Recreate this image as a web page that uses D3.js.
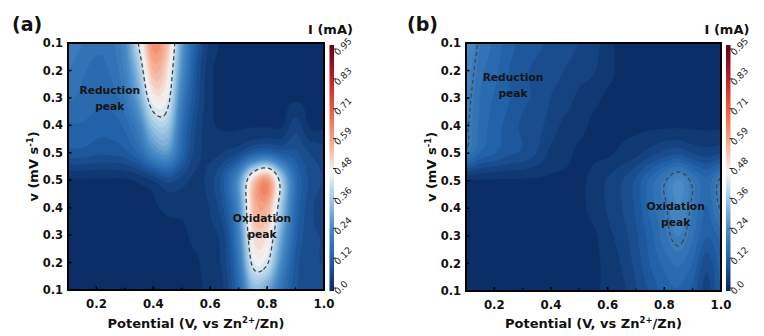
<!DOCTYPE html>
<html>
<head>
<meta charset="utf-8">
<script src="https://cdn.jsdelivr.net/npm/d3@7"></script>
<style>
  body { margin: 0; background: #fff; }
  svg { display: block; font-family: "DejaVu Sans", sans-serif; }
</style>
</head>
<body>
<svg id="chart" width="764" height="336"></svg>
<script>
// potential columns (V vs Zn2+/Zn)
const potentials = [0.10, 0.15, 0.20, 0.25, 0.30, 0.35, 0.40, 0.45, 0.50, 0.55, 0.60, 0.65, 0.70, 0.75, 0.80, 0.85, 0.90, 0.95, 1.00];
// scan-rate rows, top (cathodic) to bottom (anodic)
const scanRateLabels = ['0.1', '0.2', '0.3', '0.4', '0.5', '0.5', '0.4', '0.3', '0.2', '0.1'];

// current I (mA), panel (a)
const currentA = [
  [0.21, 0.19, 0.17, 0.18, 0.24, 0.43, 0.63, 0.55, 0.28, 0.12, 0.04, 0.02, 0.02, 0.02, 0.02, 0.02, 0.02, 0.02, 0.02],
  [0.19, 0.17, 0.16, 0.17, 0.22, 0.36, 0.57, 0.50, 0.25, 0.10, 0.03, 0.02, 0.02, 0.02, 0.02, 0.02, 0.02, 0.02, 0.02],
  [0.17, 0.16, 0.15, 0.15, 0.19, 0.30, 0.48, 0.45, 0.21, 0.09, 0.03, 0.02, 0.02, 0.02, 0.02, 0.02, 0.02, 0.02, 0.02],
  [0.14, 0.14, 0.13, 0.13, 0.15, 0.22, 0.36, 0.37, 0.17, 0.07, 0.03, 0.02, 0.02, 0.02, 0.02, 0.02, 0.06, 0.02, 0.02],
  [0.11, 0.11, 0.10, 0.10, 0.11, 0.15, 0.24, 0.27, 0.14, 0.06, 0.04, 0.05, 0.07, 0.12, 0.14, 0.11, 0.10, 0.07, 0.06],
  [0.02, 0.02, 0.02, 0.02, 0.02, 0.03, 0.05, 0.08, 0.06, 0.04, 0.06, 0.12, 0.26, 0.52, 0.62, 0.38, 0.16, 0.09, 0.07],
  [0.02, 0.02, 0.02, 0.02, 0.02, 0.02, 0.02, 0.03, 0.03, 0.03, 0.05, 0.10, 0.24, 0.55, 0.58, 0.36, 0.15, 0.08, 0.06],
  [0.02, 0.02, 0.02, 0.02, 0.02, 0.02, 0.02, 0.02, 0.02, 0.03, 0.04, 0.07, 0.22, 0.50, 0.50, 0.30, 0.13, 0.08, 0.07],
  [0.02, 0.02, 0.02, 0.02, 0.02, 0.02, 0.02, 0.02, 0.02, 0.02, 0.04, 0.06, 0.18, 0.44, 0.43, 0.24, 0.11, 0.08, 0.07],
  [0.02, 0.02, 0.02, 0.02, 0.02, 0.02, 0.02, 0.02, 0.02, 0.02, 0.03, 0.05, 0.15, 0.33, 0.30, 0.18, 0.10, 0.09, 0.08]
];

// current I (mA), panel (b)
const currentB = [
  [0.25, 0.19, 0.16, 0.13, 0.11, 0.10, 0.09, 0.08, 0.07, 0.06, 0.03, 0.02, 0.02, 0.02, 0.02, 0.02, 0.02, 0.02, 0.02],
  [0.23, 0.175, 0.15, 0.12, 0.10, 0.09, 0.08, 0.07, 0.06, 0.05, 0.03, 0.02, 0.02, 0.02, 0.02, 0.02, 0.02, 0.02, 0.02],
  [0.215, 0.165, 0.14, 0.12, 0.10, 0.09, 0.07, 0.06, 0.04, 0.03, 0.02, 0.02, 0.02, 0.02, 0.02, 0.02, 0.02, 0.02, 0.02],
  [0.205, 0.16, 0.13, 0.11, 0.09, 0.08, 0.06, 0.04, 0.03, 0.02, 0.02, 0.02, 0.02, 0.02, 0.02, 0.02, 0.02, 0.02, 0.02],
  [0.19, 0.14, 0.12, 0.10, 0.09, 0.07, 0.04, 0.03, 0.02, 0.02, 0.02, 0.03, 0.04, 0.06, 0.08, 0.09, 0.07, 0.06, 0.07],
  [0.02, 0.02, 0.02, 0.02, 0.02, 0.02, 0.02, 0.02, 0.02, 0.03, 0.05, 0.07, 0.10, 0.15, 0.195, 0.24, 0.19, 0.15, 0.21],
  [0.02, 0.02, 0.02, 0.02, 0.02, 0.02, 0.02, 0.02, 0.02, 0.03, 0.05, 0.07, 0.10, 0.15, 0.19, 0.235, 0.19, 0.14, 0.205],
  [0.02, 0.02, 0.02, 0.02, 0.02, 0.02, 0.02, 0.02, 0.02, 0.02, 0.04, 0.06, 0.09, 0.13, 0.18, 0.215, 0.17, 0.12, 0.15],
  [0.02, 0.02, 0.02, 0.02, 0.02, 0.02, 0.02, 0.02, 0.02, 0.02, 0.03, 0.05, 0.08, 0.12, 0.15, 0.17, 0.14, 0.08, 0.13],
  [0.02, 0.02, 0.02, 0.02, 0.02, 0.02, 0.02, 0.02, 0.02, 0.02, 0.03, 0.04, 0.07, 0.10, 0.13, 0.14, 0.11, 0.06, 0.12]
];

const xMajorTicks = [0.2, 0.4, 0.6, 0.8, 1.0];
const xMinorTicks = [0.3, 0.5, 0.7, 0.9];
const cbarTicks = [0, 0.11875, 0.2375, 0.35625, 0.475, 0.59375, 0.7125, 0.83125, 0.95];
const cbarLabels = ['0.0', '0.12', '0.24', '0.36', '0.48', '0.59', '0.71', '0.83', '0.95'];
const cmapStops = [0, 0.12, 0.24, 0.36, 0.46, 0.59, 0.71, 0.83, 0.95];
const cmapColors = ['#0c2e66', '#2263aa', '#4b8dc7', '#a5cce6', '#f4f4f4', '#f5a283', '#e95d40', '#c02229', '#6b0019'];

const panels = [
  { key: 'a', tag: '(a)', data: currentA, left: 68, right: 324, top: 43, bottom: 290, cbX: 329.5, dash: 0.42,
    notes: [{ lines: ['Reduction', 'peak'], x: 0.247, row: 1.86 }, { lines: ['Oxidation', 'peak'], x: 0.782, row: 6.52 }] },
  { key: 'b', tag: '(b)', data: currentB, left: 466, right: 721, top: 43, bottom: 291, cbX: 726, dash: 0.2,
    notes: [{ lines: ['Reduction', 'peak'], x: 0.266, row: 1.38 }, { lines: ['Oxidation', 'peak'], x: 0.84, row: 6.05 }] }
];

const color = d3.scaleLinear().domain(cmapStops).range(cmapColors).clamp(true);
const levels = d3.range(41).map(i => i * 0.95 / 40);
const K = 8;

function cubic(p0, p1, p2, p3, t) {
  return 0.5 * (2 * p1 + (-p0 + p2) * t + (2 * p0 - 5 * p1 + 4 * p2 - p3) * t * t + (-p0 + 3 * p1 - 3 * p2 + p3) * t * t * t);
}
function sample(arr, u) {
  const n = arr.length;
  const i = Math.min(Math.floor(u), n - 2);
  const t = u - i;
  const g = k => arr[Math.max(0, Math.min(n - 1, k))];
  return cubic(g(i - 1), g(i), g(i + 1), g(i + 2), t);
}
function refine(grid) {
  const ny = grid.length, nx = grid[0].length;
  const fx = (nx - 1) * K + 1, fy = (ny - 1) * K + 1;
  const rows = grid.map(r => d3.range(fx).map(i => sample(r, i / K)));
  const values = new Array(fx * fy);
  for (let i = 0; i < fx; i++) {
    const col = rows.map(r => r[i]);
    for (let j = 0; j < fy; j++) values[j * fx + i] = Math.max(0, sample(col, j / K));
  }
  return { values, fx, fy };
}

const svg = d3.select('#chart');

panels.forEach(p => {
  const x = d3.scaleLinear().domain([0.1, 1.0]).range([p.left, p.right]);
  const y = d3.scaleLinear().domain([0, scanRateLabels.length - 1]).range([p.top, p.bottom]);
  const { values, fx, fy } = refine(p.data);
  const colPos = d3.scaleLinear().domain([0.5, fx - 0.5]).range([potentials[0], potentials[potentials.length - 1]]);
  const rowPos = d3.scaleLinear().domain([0.5, fy - 0.5]).range([0, scanRateLabels.length - 1]);
  const path = d3.geoPath(d3.geoTransform({
    point(px, py) { this.stream.point(x(colPos(px)), y(rowPos(py))); }
  }));

  svg.append('clipPath').attr('id', 'clip-' + p.key)
    .append('rect')
    .attr('x', p.left).attr('y', p.top)
    .attr('width', p.right - p.left).attr('height', p.bottom - p.top);

  const g = svg.append('g').attr('clip-path', `url(#clip-${p.key})`);

  const bands = d3.contours().size([fx, fy]).thresholds(levels)(values);
  g.selectAll('path.band')
    .data(bands)
    .join('path')
    .attr('class', 'band')
    .attr('d', path)
    .attr('fill', d => color(d.value))
    .attr('stroke', d => color(d.value))
    .attr('stroke-width', 0.4);

  const dashLine = d3.contours().size([fx, fy]).thresholds([p.dash])(values);
  g.selectAll('path.dash')
    .data(dashLine)
    .join('path')
    .attr('class', 'dash')
    .attr('d', path)
    .attr('fill', 'none')
    .attr('stroke', '#454545')
    .attr('stroke-width', 1.3)
    .attr('stroke-dasharray', '4,3');

  // annotations
  p.notes.forEach(n => {
    n.lines.forEach((t, i) => {
      svg.append('text')
        .text(t)
        .attr('x', x(n.x)).attr('y', y(n.row) + i * 16)
        .attr('text-anchor', 'middle')
        .attr('font-size', '10.7px')
        .attr('font-weight', 'bold')
        .attr('fill', '#151515');
    });
  });

  // frame
  svg.append('rect')
    .attr('x', p.left).attr('y', p.top)
    .attr('width', p.right - p.left).attr('height', p.bottom - p.top)
    .attr('fill', 'none').attr('stroke', '#000').attr('stroke-width', 2);

  // x ticks
  svg.selectAll(null).data(xMajorTicks).join('line')
    .attr('x1', d => x(d)).attr('x2', d => x(d))
    .attr('y1', p.bottom).attr('y2', p.bottom - 4)
    .attr('stroke', '#000').attr('stroke-width', 1.5);
  svg.selectAll(null).data(xMinorTicks).join('line')
    .attr('x1', d => x(d)).attr('x2', d => x(d))
    .attr('y1', p.bottom).attr('y2', p.bottom - 2.5)
    .attr('stroke', '#000').attr('stroke-width', 1.2);
  svg.selectAll(null).data(xMajorTicks).join('text')
    .text(d => d.toFixed(1))
    .attr('x', d => x(d)).attr('y', p.bottom + 18)
    .attr('text-anchor', 'middle')
    .attr('font-size', '11.8px').attr('font-weight', 'bold').attr('fill', '#111');

  // y ticks
  svg.selectAll(null).data(scanRateLabels).join('line')
    .attr('x1', p.left).attr('x2', p.left + 3.5)
    .attr('y1', (d, i) => y(i)).attr('y2', (d, i) => y(i))
    .attr('stroke', '#000').attr('stroke-width', 1.5);
  svg.selectAll(null).data(scanRateLabels).join('text')
    .text(d => d)
    .attr('x', p.left - 5).attr('y', (d, i) => y(i))
    .attr('dy', '0.36em')
    .attr('text-anchor', 'end')
    .attr('font-size', '11.5px').attr('font-weight', 'bold').attr('fill', '#111');

  // axis titles
  const xt = svg.append('text')
    .attr('x', (p.left + p.right) / 2).attr('y', 328)
    .attr('text-anchor', 'middle')
    .attr('font-size', '13px').attr('font-weight', 'bold').attr('fill', '#111');
  xt.append('tspan').text('Potential (V, vs Zn');
  xt.append('tspan').text('2+').attr('font-size', '8.5px').attr('dy', '-5');
  xt.append('tspan').text('/Zn)').attr('dy', '5');

  const cy = (p.top + p.bottom) / 2;
  const yt = svg.append('text')
    .attr('transform', `translate(${p.left - 30},${cy}) rotate(-90)`)
    .attr('text-anchor', 'middle')
    .attr('font-size', '13px').attr('font-weight', 'bold').attr('fill', '#111');
  yt.append('tspan').text('v (mV s');
  yt.append('tspan').text('-1').attr('font-size', '8.5px').attr('dy', '-5');
  yt.append('tspan').text(')').attr('dy', '5');

  svg.append('text')
    .text(p.tag)
    .attr('x', p.key === 'a' ? 12 : 407).attr('y', 31)
    .attr('font-size', '19px').attr('font-weight', 'bold').attr('fill', '#111');

  // colorbar
  const cb = d3.scaleLinear().domain([0, 0.95]).range([288, 49]);
  const cbW = 4.5;
  const grad = svg.append('defs').append('linearGradient')
    .attr('id', 'grad-' + p.key)
    .attr('gradientUnits', 'userSpaceOnUse')
    .attr('x1', 0).attr('x2', 0)
    .attr('y1', cb(0)).attr('y2', cb(0.95));
  grad.selectAll('stop').data(cmapStops).join('stop')
    .attr('offset', d => d / 0.95)
    .attr('stop-color', d => color(d));
  svg.append('rect')
    .attr('x', p.cbX).attr('y', 45)
    .attr('width', cbW).attr('height', 246)
    .attr('fill', `url(#grad-${p.key})`);
  svg.selectAll(null).data(cbarTicks).join('line')
    .attr('x1', p.cbX + cbW - 1).attr('x2', p.cbX + cbW + 2)
    .attr('y1', d => cb(d)).attr('y2', d => cb(d))
    .attr('stroke', '#222').attr('stroke-width', 1);
  svg.selectAll(null).data(cbarTicks).join('text')
    .text((d, i) => cbarLabels[i])
    .attr('transform', d => `translate(${p.cbX + cbW + 4},${cb(d) + 7}) rotate(-45)`)
    .attr('font-size', '9.2px').attr('fill', '#222');
  svg.append('text')
    .text('I (mA)')
    .attr('x', p.cbX + 1).attr('y', 34)
    .attr('text-anchor', 'middle')
    .attr('font-size', '13px').attr('font-weight', 'bold').attr('fill', '#111');
});
</script>
</body>
</html>
